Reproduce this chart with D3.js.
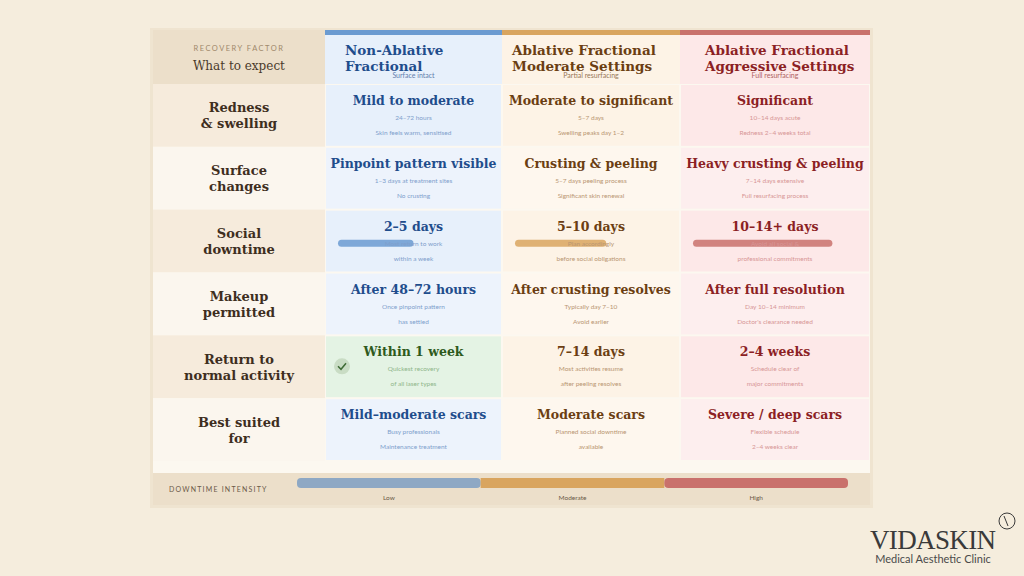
<!DOCTYPE html>
<html><head><meta charset="utf-8">
<script src="https://cdn.jsdelivr.net/npm/d3@7/dist/d3.min.js"></script>
<style>body{margin:0;background:#f5eddd}</style></head>
<body><svg id="c" width="1024" height="576"></svg>
<script>
const columns = ["Non-Ablative|Fractional","Ablative Fractional|Moderate Settings","Ablative Fractional|Aggressive Settings"];
const columnSubs = ["Surface intact","Partial resurfacing","Full resurfacing"];
const rowLabels = ["Redness|& swelling","Surface|changes","Social|downtime","Makeup|permitted","Return to|normal activity","Best suited|for"];
const headlines = [
 ["Mild to moderate","Moderate to significant","Significant"],
 ["Pinpoint pattern visible","Crusting & peeling","Heavy crusting & peeling"],
 ["2–5 days","5–10 days","10–14+ days"],
 ["After 48–72 hours","After crusting resolves","After full resolution"],
 ["Within 1 week","7–14 days","2–4 weeks"],
 ["Mild–moderate scars","Moderate scars","Severe / deep scars"]];
const details = [
 [["24–72 hours","Skin feels warm, sensitised"],["5–7 days","Swelling peaks day 1–2"],["10–14 days acute","Redness 2–4 weeks total"]],
 [["1–3 days at treatment sites","No crusting"],["5–7 days peeling process","Significant skin renewal"],["7–14 days extensive","Full resurfacing process"]],
 [["Most return to work","within a week"],["Plan accordingly","before social obligations"],["Avoid all social &","professional commitments"]],
 [["Once pinpoint pattern","has settled"],["Typically day 7–10","Avoid earlier"],["Day 10–14 minimum","Doctor's clearance needed"]],
 [["Quickest recovery","of all laser types"],["Most activities resume","after peeling resolves"],["Schedule clear of","major commitments"]],
 [["Busy professionals","Maintenance treatment"],["Planned social downtime","available"],["Flexible schedule","2–4 weeks clear"]]];
const socialBar = [0.5, 0.6, 0.85];
const intensityLabels = ["Low","Moderate","High"];

const svg = d3.select("#c");
const serif = "Georgia, 'DejaVu Serif', serif", sans = "Lato, 'Open Sans', sans-serif";
const accent = ["#6b9bd1","#d9a55f","#c9716c"];
const cellBg = ["#e7f0fb","#fdf3e6","#fde8e8"];
const headCol = ["#1f4d8c","#6b3e12","#8c1f24"];
const subCol = ["#7f9fcc","#b99672","#d79696"];
const x = d3.scaleOrdinal().domain([0,1,2,3]).range([153,325,502,680]);
const colW = [172,177,178,190];
const y = d3.scaleBand().domain(d3.range(6)).range([84,461]).padding(0);

svg.append("rect").attr("x",150).attr("y",28).attr("width",723).attr("height",480).attr("fill","#efe4d0");
svg.append("rect").attr("x",153).attr("y",30).attr("width",717).attr("height",475).attr("fill","#fcf8f0");
svg.append("rect").attr("x",153).attr("y",30).attr("width",172).attr("height",54).attr("fill","#ecdfca");
svg.append("text").attr("x",239).attr("y",51).attr("text-anchor","middle").attr("font-family",sans).attr("font-size",7.5).attr("letter-spacing",1.5).attr("fill","#a0896a").text("RECOVERY FACTOR");
svg.append("text").attr("x",239).attr("y",70).attr("text-anchor","middle").attr("font-family",serif).attr("font-size",12).attr("fill","#4a3a2a").text("What to expect");
columns.forEach((c,i)=>{
  const cx=x(i+1), w=colW[i+1];
  svg.append("rect").attr("x",cx).attr("y",30).attr("width",w).attr("height",54).attr("fill",cellBg[i]);
  svg.append("rect").attr("x",cx).attr("y",30).attr("width",w).attr("height",5).attr("fill",accent[i]);
  c.split("|").forEach((t,k)=>svg.append("text").attr("x",cx+(i==0?20:10)+(i==2?15:0)).attr("y",55+k*16).attr("font-family",serif).attr("font-weight","bold").attr("font-size",13.5).attr("fill",headCol[i]).text(t));
  svg.append("text").attr("x",cx+w/2).attr("y",78).attr("text-anchor","middle").attr("font-family",sans).attr("font-size",7).attr("fill",headCol[i]).attr("opacity",0.7).text(columnSubs[i]);
});
rowLabels.forEach((r,ri)=>{
  const y0=y(ri), h=y.bandwidth();
  svg.append("rect").attr("x",153).attr("y",y0).attr("width",172).attr("height",h).attr("fill",ri%2?"#fbf6ee":"#f6ebdc");
  r.split("|").forEach((t,k)=>svg.append("text").attr("x",239).attr("y",y0+h/2-3+k*16).attr("text-anchor","middle").attr("font-family",serif).attr("font-weight","bold").attr("font-size",13).attr("fill","#3e2e1e").text(t));
  for(let i=0;i<3;i++){
    const cx=x(i+1), w=colW[i+1];
    let bg=cellBg[i]; if(i>0&&ri%2) bg=i==1?"#fef7ee":"#fdeeee"; if(i==0&&ri%2) bg="#edf3fc"; if(ri==4&&i==0) bg="#e4f3e4";
    svg.append("rect").attr("x",cx+1).attr("y",y0+1).attr("width",w-2).attr("height",h-2).attr("fill",bg);
    const hc = (ri==4&&i==0)?"#2e5a1c":headCol[i];
    svg.append("text").attr("x",cx+w/2).attr("y",y0+21).attr("text-anchor","middle").attr("font-family",serif).attr("font-weight","bold").attr("font-size",12.5).attr("fill",hc).text(headlines[ri][i]);
    if(ri==2){
      svg.append("rect").attr("x",cx+13).attr("y",y0+30).attr("width",(w-26)*socialBar[i]).attr("height",7).attr("rx",3.5).attr("fill",accent[i]).attr("opacity",0.85);
    }
    details[ri][i].forEach((t,k)=>svg.append("text").attr("x",cx+w/2).attr("y",y0+36+k*15).attr("text-anchor","middle").attr("font-family",sans).attr("font-size",6.5).attr("fill",(ri==4&&i==0)?"#8fb58a":subCol[i]).text(t));
  }
  if(ri==4){
    svg.append("circle").attr("cx",342).attr("cy",y0+31).attr("r",8).attr("fill","#c9dcc4");
    svg.append("path").attr("d",`M338,${y0+31} l3,3 l5,-6`).attr("stroke","#3f6b36").attr("stroke-width",1.5).attr("fill","none");
  }
});
svg.append("rect").attr("x",153).attr("y",473).attr("width",717).attr("height",32).attr("fill","#ecdfca");
svg.append("text").attr("x",169).attr("y",492).attr("font-family",sans).attr("font-size",7).attr("letter-spacing",1.2).attr("fill","#6b5a48").text("DOWNTIME INTENSITY");
const ix = d3.scaleBand().domain(intensityLabels).range([297,848]);
const iCol=["#8ea8c4","#d9a55f","#c9716c"];
intensityLabels.forEach((l,i)=>{
  svg.append("rect").attr("x",ix(l)).attr("y",478).attr("width",ix.bandwidth()).attr("height",10).attr("rx",i==1?0:4).attr("fill",iCol[i]);
  svg.append("text").attr("x",ix(l)+ix.bandwidth()/2).attr("y",500).attr("text-anchor","middle").attr("font-family",sans).attr("font-size",6.5).attr("fill","#6b5a48").text(l);
});
svg.append("text").attr("x",933).attr("y",549).attr("text-anchor","middle").attr("font-family","'Liberation Serif', serif").attr("font-size",27).attr("fill","#3a3a3a").attr("textLength",126).text("VIDASKIN");
svg.append("circle").attr("cx",1007).attr("cy",521).attr("r",8).attr("fill","none").attr("stroke","#3a3a3a").attr("stroke-width",1);
svg.append("path").attr("d","M1004,516 L1008,526").attr("stroke","#3a3a3a").attr("stroke-width",1);
svg.append("text").attr("x",933).attr("y",563).attr("text-anchor","middle").attr("font-family",sans).attr("font-size",11).attr("fill","#4a4a4a").text("Medical Aesthetic Clinic");
</script></body></html>
